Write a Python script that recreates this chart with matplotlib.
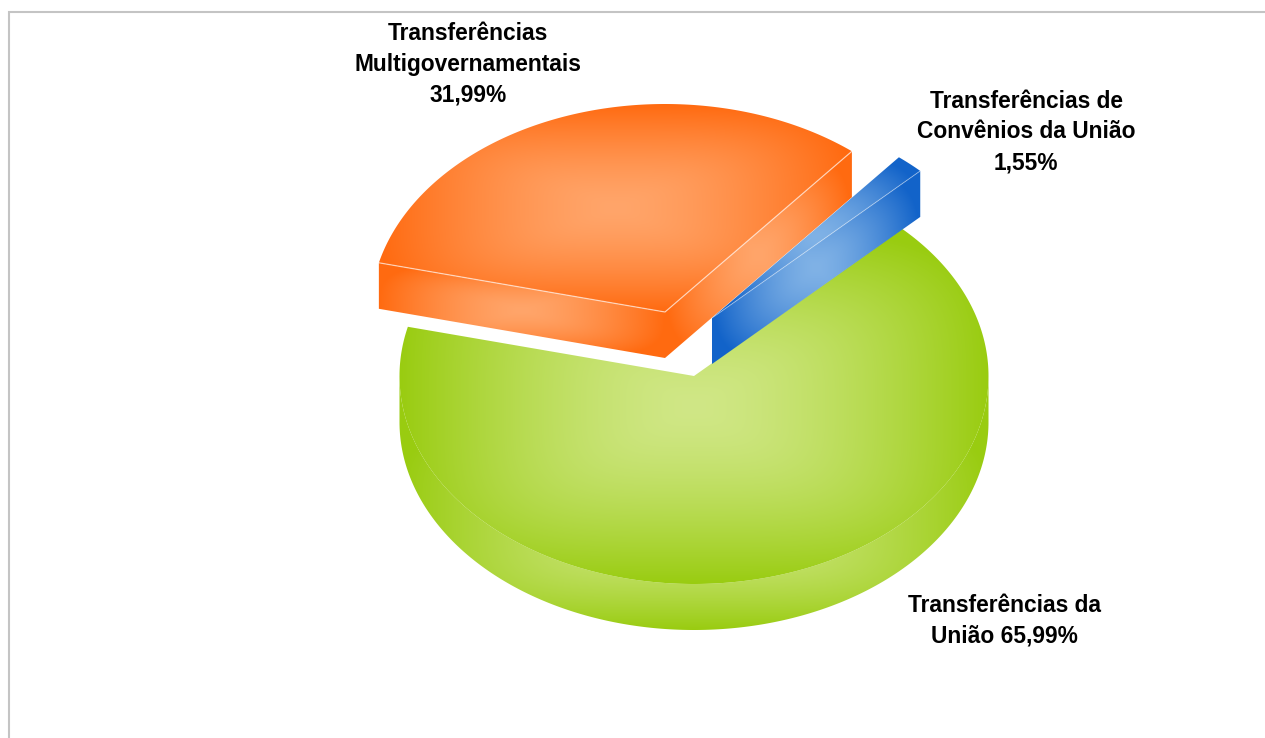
import numpy as np
import matplotlib
matplotlib.use("Agg")
import matplotlib.pyplot as plt
from matplotlib.patches import Polygon
from matplotlib.colors import to_rgb

# data, in drawing order (counter-clockwise from the start angle)
categories = ["Transferências de\nConvênios da União", "Transferências\nMultigovernamentais", "Transferências da\nUnião"]
values = [1.55, 31.99, 65.99]
value_labels = ["1,55%", "31,99%", "65,99%"]

W, H = 1265, 738
plt.rcParams["font.family"] = ["Liberation Sans", "DejaVu Sans"]
fig = plt.figure(figsize=(W / 100, H / 100), dpi=100)
ax = fig.add_axes([0, 0, 1, 1])
ax.set_xlim(0, W)
ax.set_ylim(H, 0)
ax.axis("off")

RX, RY, DEPTH = 294.5, 208, 46
START = 45.0
centers = [(712, 318), (665, 312), (694, 376)]
DARK = ["#1263C9", "#FF6A10", "#99CC10"]
LIGHT = ["#80B2E6", "#FFA56A", "#D0E786"]
angles = np.cumsum([0] + list(values)) / sum(values) * 360 + START

gx, gy = np.meshgrid(np.arange(W) + 0.5, np.arange(H) + 0.5)


def pt(c, a):
    r = np.radians(a)
    return np.array([c[0] + RX * np.cos(r), c[1] - RY * np.sin(r)])


def arc(c, a0, a1):
    n = max(int(abs(a1 - a0) * 2), 2)
    return [pt(c, a) for a in np.linspace(a0, a1, n)]


def face(poly, color_i, z, center=None, half=None, p=4.0, g=1.5):
    poly = np.array(poly)
    lo, hi = poly.min(0), poly.max(0)
    c = (lo + hi) / 2 if center is None else np.array(center)
    h = (hi - lo) / 2 if half is None else np.array(half)
    t = ((np.abs(gx - c[0]) / h[0]) ** p + (np.abs(gy - c[1]) / h[1]) ** p) ** (1 / p)
    t = np.clip(t, 0, 1)[..., None] ** g
    rgb = np.array(to_rgb(LIGHT[color_i])) * (1 - t) + np.array(to_rgb(DARK[color_i])) * t
    im = ax.imshow(rgb, extent=(0, W, H, 0), zorder=z, interpolation="bilinear", aspect="auto")
    patch = Polygon(poly, closed=True, transform=ax.transData, fc="none", ec="none")
    ax.add_patch(patch)
    im.set_clip_path(patch)


def down(p):
    return np.array([p[0], p[1] + DEPTH])


# green slice: rim, then top
c = centers[2]
a0, a1 = angles[2], angles[3]
rim_top = arc(c, 180, 360)
rim = rim_top + [down(q) for q in rim_top[::-1]]
face(rim, 2, 1, center=(695, 520), half=(295, 110), p=4.0)
face([c] + arc(c, a0, a1), 2, 2)

# orange slice: cut faces, then top
c = centers[1]
a0, a1 = angles[1], angles[2]
pl, pr = pt(c, a1), pt(c, a0)
face([pl, c, down(c), down(pl)], 1, 3)
face([c, pr, down(pr), down(c)], 1, 3)
face([c] + arc(c, a0, a1), 1, 4)
ax.plot([pl[0], c[0], pr[0]], [pl[1], c[1], pr[1]], color="white", lw=0.9, alpha=0.6, zorder=5)

# blue slice: cut face, then top
c = centers[0]
a0, a1 = angles[0], angles[1]
pr = pt(c, a0)
face([c, pr, down(pr), down(c)], 0, 6)
face([c] + arc(c, a0, a1), 0, 7)
ax.plot([c[0], pr[0]], [c[1], pr[1]], color="white", lw=0.7, alpha=0.4, zorder=8)

# chart frame: left and top only
ax.plot([9, 9, W], [H, 12, 12], color="#C4C4C4", lw=1.5, zorder=0, solid_joinstyle="miter")

# labels
label_pos = [(1026, 132), (468, 64), (1004, 621)]
texts = [
    f"{categories[0]}\n{value_labels[0]}",
    f"{categories[1]}\n{value_labels[1]}",
    f"{categories[2]} {value_labels[2]}",
]
for (x, y), s in zip(label_pos, texts):
    ax.text(x, y, s, ha="center", va="center", fontsize=16.4, fontweight="bold",
            color="black", linespacing=1.42, zorder=10)

fig.savefig("out.png", dpi=100)
